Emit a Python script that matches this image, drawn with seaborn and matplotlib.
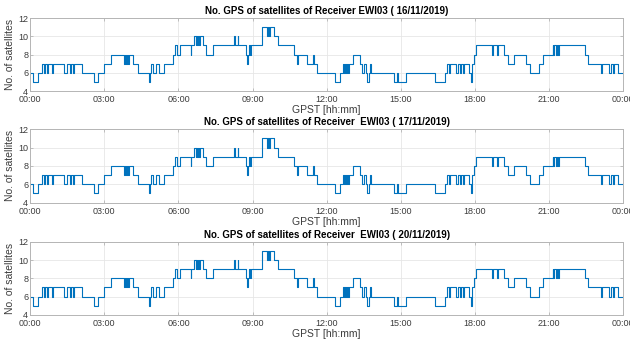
"""
Number of GPS satellites tracked by receiver EWI03 on three days,
drawn as step lines (one panel per day).
"""

import matplotlib
matplotlib.use("Agg")
import matplotlib.pyplot as plt
import pandas as pd
import seaborn as sns

# change points (hour of day) and satellite count valid from that hour on
change_hours = [
    0.00, 0.13, 0.30, 0.47, 0.55, 0.58, 0.68, 0.71, 0.88, 0.92,
    1.35, 1.50, 1.62, 1.65, 1.75, 1.78, 2.10, 2.60, 2.73, 2.97,
    3.28, 3.80, 3.84, 3.87, 3.92, 3.95, 4.00, 4.18, 4.35, 4.80,
    4.84, 4.88, 4.98, 5.08, 5.22, 5.40, 5.78, 5.85, 5.95, 6.05,
    6.50, 6.52, 6.64, 6.70, 6.73, 6.77, 6.80, 6.85, 6.88, 7.00,
    7.10, 7.40, 8.25, 8.28, 8.40, 8.43, 8.75, 8.78, 8.80, 8.85,
    8.88, 8.95, 9.38, 9.58, 9.64, 9.68, 9.72, 9.85, 10.05, 10.66,
    10.78, 10.82, 11.20, 11.45, 11.48, 11.60, 12.32, 12.55, 12.66, 12.72,
    12.75, 12.78, 12.82, 12.88, 12.92, 13.07, 13.33, 13.45, 13.50, 13.58,
    13.62, 13.70, 13.75, 13.80, 14.74, 14.85, 14.88, 15.22, 16.40, 16.80,
    16.87, 16.95, 17.00, 17.25, 17.30, 17.38, 17.42, 17.50, 17.55, 17.75,
    17.85, 17.88, 17.95, 18.06, 18.70, 18.73, 18.88, 18.92, 19.16, 19.35,
    19.60, 20.05, 20.24, 20.58, 20.75, 21.15, 21.18, 21.22, 21.30, 21.33,
    21.38, 21.42, 22.47, 22.60, 23.10, 23.13, 23.45, 23.50, 23.60, 23.65,
    23.80, 24.00,
]
sat_counts = [
    6, 5, 6, 7, 6, 7, 6, 7, 6, 7,
    6, 7, 6, 7, 6, 7, 6, 5, 6, 7,
    8, 7, 8, 7, 8, 7, 8, 7, 6, 5,
    6, 7, 6, 7, 6, 7, 8, 9, 8, 9,
    8, 9, 10, 9, 10, 9, 10, 9, 10, 9,
    8, 9, 10, 9, 10, 9, 8, 7, 8, 9,
    8, 9, 11, 10, 11, 10, 11, 10, 9, 8,
    7, 8, 7, 8, 7, 6, 5, 6, 7, 6,
    7, 6, 7, 6, 7, 8, 7, 6, 7, 6,
    5, 6, 7, 6, 5, 6, 5, 6, 5, 6,
    7, 6, 7, 6, 7, 6, 7, 6, 7, 6,
    5, 7, 8, 9, 8, 9, 8, 9, 8, 7,
    8, 7, 6, 7, 8, 9, 8, 9, 8, 9,
    8, 9, 8, 7, 6, 7, 6, 7, 6, 7,
    6, 6,
]

days = ["16/11/2019", "17/11/2019", "20/11/2019"]
titles = [
    "No. GPS of satellites of Receiver EWI03 ( 16/11/2019)",
    "No. GPS of satellites of Receiver  EWI03 ( 17/11/2019)",
    "No. GPS of satellites of Receiver  EWI03 ( 20/11/2019)",
]
tick_hours = [0, 3, 6, 9, 12, 15, 18, 21, 24]
tick_labels = ["00:00", "03:00", "06:00", "09:00", "12:00",
               "15:00", "18:00", "21:00", "00:00"]

sns.set_theme(style="whitegrid")
plt.rcParams["font.family"] = ["Liberation Sans", "DejaVu Sans"]

line_color = "#0072BD"
frame_color = "#b5b5b5"
text_color = "#3c3c3c"

fig = plt.figure(figsize=(6.3, 3.4), dpi=100)
axes_boxes = [
    [0.048, 0.732, 0.941, 0.215],
    [0.048, 0.404, 0.941, 0.216],
    [0.048, 0.074, 0.941, 0.215],
]

for box, day, title in zip(axes_boxes, days, titles):
    ax = fig.add_axes(box)
    df = pd.DataFrame({"hour": change_hours, "sats": sat_counts})
    sns.lineplot(data=df, x="hour", y="sats", ax=ax, color=line_color,
                 drawstyle="steps-post", linewidth=0.8, estimator=None)
    ax.set_xlim(0, 24)
    ax.set_ylim(4, 12)
    ax.set_xticks(tick_hours)
    ax.set_xticklabels(tick_labels)
    ax.set_yticks([4, 6, 8, 10, 12])
    ax.set_title(title, fontsize=7, fontweight="bold", color="black", pad=3)
    ax.set_xlabel("GPST [hh:mm]", fontsize=7.5, color=text_color, labelpad=0.5)
    ax.set_ylabel("No. of satellites", fontsize=7.5, color=text_color, labelpad=2)
    ax.tick_params(axis="both", labelsize=6.5, color=frame_color,
                   labelcolor=text_color, direction="in", length=2.5,
                   width=0.6, top=True, right=True, bottom=True, left=True)
    ax.tick_params(axis="x", pad=3)
    ax.tick_params(axis="y", pad=1.5)
    ax.grid(True, color="#e6e6e6", linewidth=0.6)
    for spine in ax.spines.values():
        spine.set_visible(True)
        spine.set_color(frame_color)
        spine.set_linewidth(0.7)

fig.savefig("out.png", dpi=100)
